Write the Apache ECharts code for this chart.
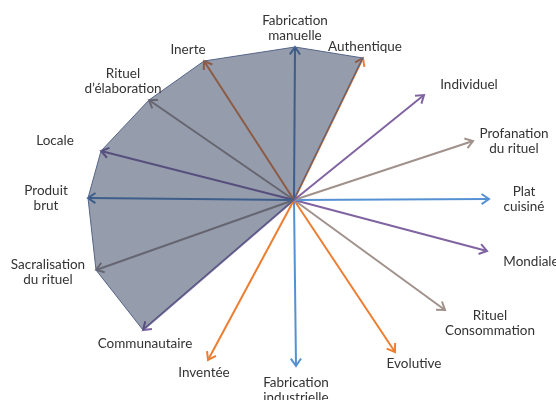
<!DOCTYPE html>
<html lang="fr">
<head>
  <meta charset="UTF-8">
  <title>Axes</title>
  <script src="https://cdn.jsdelivr.net/npm/echarts@6/dist/echarts.min.js"></script>
  <style>
    html, body { margin: 0; padding: 0; background: #fff; }
    #main { width: 556px; height: 400px; }
  </style>
</head>
<body>
<div id="main"></div>
<script>
  // axes du schema : nom, extremite de la fleche (origine = centre)
  var names = ['Authentique', 'Fabrication\nmanuelle', 'Inerte', 'Rituel\nd’élaboration', 'Locale',
    'Produit\nbrut', 'Sacralisation\ndu rituel', 'Communautaire', 'Inventée', 'Fabrication\nindustrielle',
    'Evolutive', 'Rituel\nConsommation', 'Mondiale', 'Plat\ncuisiné', 'Profanation\ndu rituel', 'Individuel'];
  var tipX = [69, 1, -90, -145, -193, -206, -198, -151, -86, 2, 101, 151, 193, 195, 179, 130];
  var tipY = [142, 153, 139, 100, 49, 2, -70, -130, -160, -166, -152, -110, -51, 1, 59, 105];
  // les 8 premiers axes forment la zone grisee
  var shaded = 8;

  // placement des libelles
  var labelX = [71, 1, -106, -171, -239, -248, -246, -149, -90, 2, 120, 196, 237, 230, 220, 175];
  var labelY = [153, 172, 150, 119, 59, 2, -72, -144, -173, -190, -164, -123, -62, 1, 59, 115];

  var orange = '#ed7d31', blue = '#4f81bd', purple = '#8064a2', taupe = '#a0928b';
  var colors = [orange, blue, orange, taupe, purple, blue, taupe, purple,
    orange, '#5591d2', orange, taupe, purple, '#5591d2', taupe, purple];

  var arrowData = names.map(function (n, i) { return [tipX[i], tipY[i], i]; });
  var polyData = [[0, 0]];
  for (var k = 0; k < shaded; k++) polyData.push([tipX[k], tipY[k]]);
  var labelData = names.map(function (n, i) { return [labelX[i], labelY[i], i]; });

  var chart = echarts.init(document.getElementById('main'));
  chart.setOption({
    animation: false,
    grid: { left: 0, top: 0, width: 556, height: 400 },
    xAxis: { type: 'value', min: -294, max: 262, show: false },
    yAxis: { type: 'value', min: -200, max: 200, show: false },
    series: [
      {
        type: 'custom',
        z: 2,
        data: arrowData,
        renderItem: function (params, api) {
          var o = api.coord([0, 0]);
          var t = api.coord([api.value(0), api.value(1)]);
          var c = colors[api.value(2)];
          var a = Math.atan2(t[1] - o[1], t[0] - o[0]);
          var L = 9, h = 0.6;
          var p1 = [t[0] - L * Math.cos(a - h), t[1] - L * Math.sin(a - h)];
          var p2 = [t[0] - L * Math.cos(a + h), t[1] - L * Math.sin(a + h)];
          return {
            type: 'group',
            children: [
              { type: 'line', shape: { x1: o[0], y1: o[1], x2: t[0], y2: t[1] },
                style: { stroke: c, lineWidth: 2 } },
              { type: 'polyline', shape: { points: [p1, t, p2] },
                style: { stroke: c, lineWidth: 2, fill: null } }
            ]
          };
        }
      },
      {
        type: 'custom',
        z: 3,
        data: [0],
        renderItem: function (params, api) {
          var pts = polyData.map(function (p) { return api.coord(p); });
          return {
            type: 'polygon',
            shape: { points: pts },
            style: { fill: 'rgba(44,58,88,0.5)', stroke: '#55658a', lineWidth: 1 }
          };
        }
      },
      {
        type: 'custom',
        z: 4,
        data: labelData,
        renderItem: function (params, api) {
          var p = api.coord([api.value(0), api.value(1)]);
          return {
            type: 'text',
            x: p[0], y: p[1],
            style: {
              text: names[api.value(2)],
              fill: '#333',
              font: '13.5px Lato',
              align: 'center',
              verticalAlign: 'middle',
              lineHeight: 15
            }
          };
        }
      }
    ]
  });
</script>
</body>
</html>
